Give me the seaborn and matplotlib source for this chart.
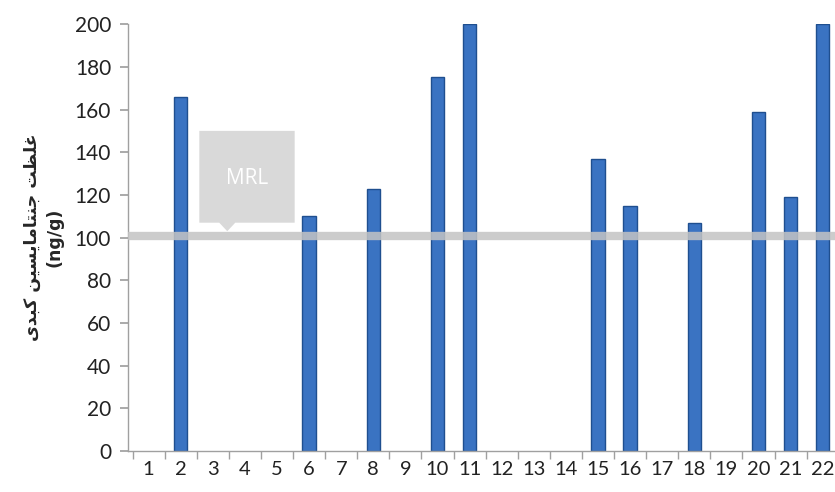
"""
gentamicin liver bar chart with MRL line
"""
import numpy as np
import pandas as pd
import seaborn as sns
import matplotlib.pyplot as plt
from matplotlib.patches import Polygon

sns.set_theme(style="white")
plt.rcParams["font.family"] = ["Lato", "DejaVu Sans"]

# 樣本編號與濃度
samples = [str(i) for i in range(1, 23)]
conc = [0, 166, 0, 0, 0, 110, 0, 123, 0, 175, 200,
        0, 0, 0, 137, 115, 0, 107, 0, 159, 119, 200]
mrl = 101
yticks = list(range(0, 201, 20))

# 波斯文標籤 (手動整形, 由左至右的字形順序)
fa_word1 = "\uFECF\uFEE0\uFEC8\uFE96"  # غلظت
fa_word2 = "\uFE9F\uFEE8\uFE98\uFE8E\uFEE3\uFE8E\uFBFE\uFEB4\uFBFF\uFEE6"  # جنتامایسین
fa_word3 = "\uFB90\uFE92\uFEAA\uFBFC"  # کبدی
fa_label = (fa_word1 + " " + fa_word2 + " " + fa_word3)[::-1]

df = pd.DataFrame({"sample": samples, "conc": conc})

fig = plt.figure(figsize=(8.35, 4.92), dpi=100)
ax = fig.add_axes([0.153, 0.083, 0.8515, 0.868])

sns.barplot(data=df, x="sample", y="conc", order=samples, width=0.42,
            color="#3a73c2", edgecolor="#1f4f8f", linewidth=1.0,
            saturation=1, ax=ax, zorder=2)

# 空的類別不要畫邊框
for p in ax.patches:
    if p.get_height() == 0:
        p.set_visible(False)

# MRL 線
ax.axhline(mrl, color="#c4c4c4", lw=6, alpha=0.85, zorder=3)

# MRL 標註框
box_x0, box_x1 = 1.58, 4.55
box_y0, box_y1 = 107, 150
tip_x = 2.45
pts = [(box_x0, box_y0), (tip_x - 0.25, box_y0), (tip_x, mrl + 2),
       (tip_x + 0.25, box_y0), (box_x1, box_y0), (box_x1, box_y1),
       (box_x0, box_y1)]
ax.add_patch(Polygon(pts, closed=True, facecolor="#d9d9d9",
                     edgecolor="none", zorder=4))
ax.text((box_x0 + box_x1) / 2, (box_y0 + box_y1) / 2 - 1, "MRL",
        color="white", fontsize=15, ha="center", va="center",
        family=["Open Sans", "DejaVu Sans"], zorder=5)

ax.set_xlim(-0.65, 21.5)
ax.set_ylim(0, 200)
ax.set_yticks(yticks)
ax.set_xlabel("")
ax.set_ylabel(fa_label + "\n(ng/g)", fontsize=12.5, fontweight="bold",
              family=["DejaVu Sans"], labelpad=8, linespacing=1.35)

# 刻度在類別之間
ax.set_xticks(np.arange(-0.5, 22, 1), minor=True)
ax.tick_params(axis="x", which="major", length=0, pad=7, labelsize=14.5,
               colors="#222222")
ax.tick_params(axis="x", which="minor", bottom=True, length=6,
               color="#a0a0a0", width=1)
ax.tick_params(axis="y", left=True, length=6, color="#a0a0a0",
               labelsize=15, pad=6, labelcolor="#222222")

for s in ["top", "right"]:
    ax.spines[s].set_visible(False)
for s in ["left", "bottom"]:
    ax.spines[s].set_color("#a0a0a0")
    ax.spines[s].set_linewidth(1)

fig.savefig("out.png", dpi=100)
